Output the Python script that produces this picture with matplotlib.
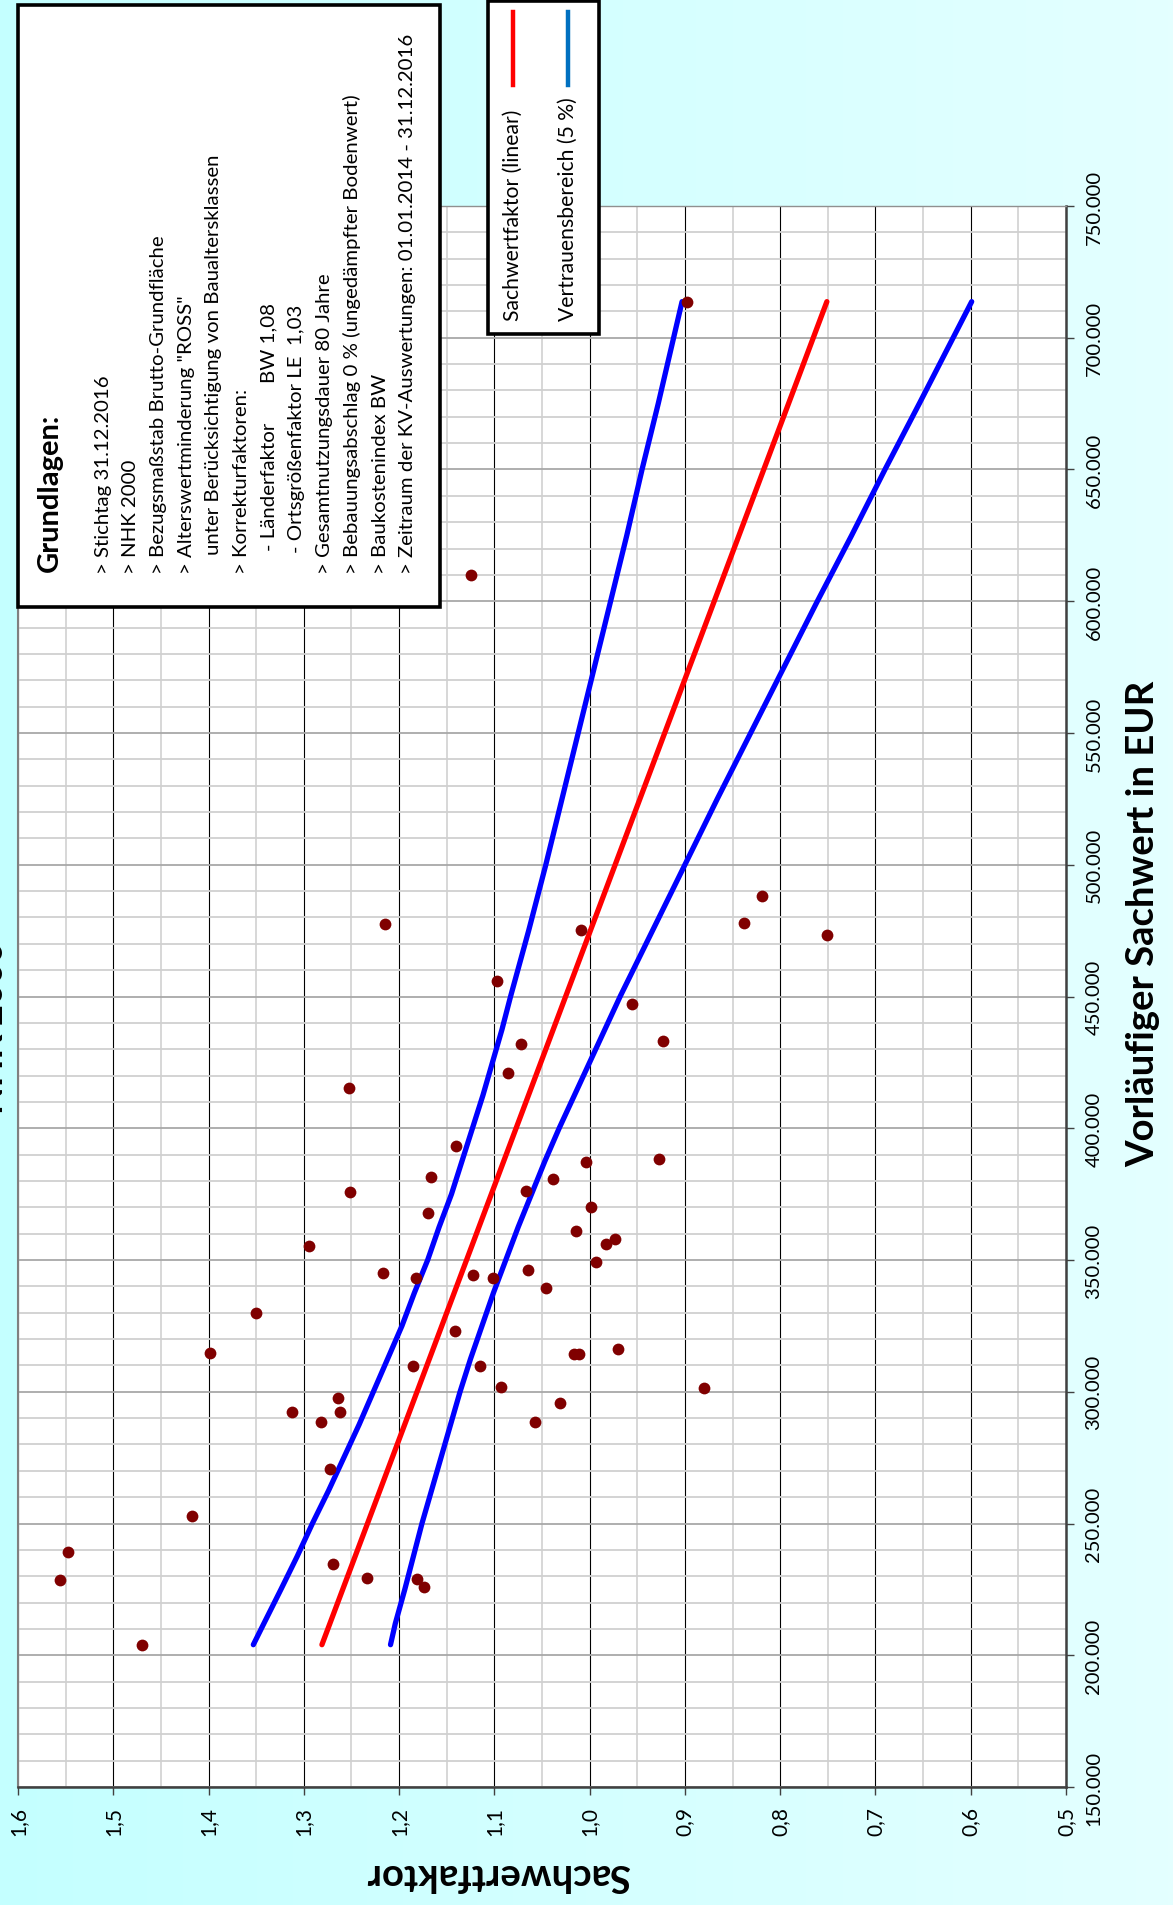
import matplotlib
matplotlib.use("Agg")
import matplotlib.pyplot as plt
import numpy as np
from matplotlib.colors import LinearSegmentedColormap
from matplotlib.patches import Rectangle
from matplotlib.lines import Line2D

W, H = 1173, 1906
plt.rcParams["font.family"] = ["Lato", "DejaVu Sans"]

# Kaufpreise: vorläufiger Sachwert (EUR) und Sachwertfaktor
sachwert = [713700, 609900, 477500, 475300, 473300, 478000, 488000, 455900,
            447100, 433300, 432000, 420800, 415100, 393300, 388500, 387100,
            381400, 380600, 375900, 376100, 368000, 370100, 361100, 355300,
            357800, 356000, 344900, 343200, 344300, 343300, 346100, 349100,
            339300, 329700, 323200, 314800, 314300, 314300, 316200, 309700,
            309700, 301800, 301300, 297600, 295600, 292500, 292200, 288700,
            288400, 270800, 253000, 239300, 234700, 228500, 229400, 229100,
            225800, 204000]
faktor = [0.898, 1.124, 1.215, 1.009, 0.751, 0.838, 0.819, 1.097,
          0.956, 0.923, 1.072, 1.086, 1.253, 1.140, 0.927, 1.004,
          1.166, 1.038, 1.252, 1.067, 1.170, 0.999, 1.014, 1.295,
          0.973, 0.983, 1.217, 1.182, 1.122, 1.101, 1.065, 0.993,
          1.046, 1.350, 1.141, 1.398, 1.016, 1.011, 0.970, 1.185,
          1.115, 1.093, 0.880, 1.264, 1.031, 1.312, 1.262, 1.282,
          1.057, 1.273, 1.417, 1.547, 1.269, 1.556, 1.234, 1.181,
          1.174, 1.470]

# lineare Regression
trend_wert = [204000, 713700]
trend_faktor = [1.281, 0.751]

# Vertrauensbereich (5 %)
band_wert = [204000, 212000, 225000, 237500, 250000, 262500, 275000, 287500,
             300000, 312500, 325000, 337500, 350000, 362500, 375000, 387500,
             400000, 412500, 425000, 437500, 450000, 475000, 500000, 525000,
             550000, 575000, 600000, 625000, 650000, 675000, 713700]
band_oben = [1.353, 1.342, 1.324, 1.307, 1.291, 1.274, 1.258, 1.242,
             1.227, 1.212, 1.197, 1.184, 1.170, 1.158, 1.145, 1.134,
             1.123, 1.112, 1.102, 1.092, 1.083, 1.064, 1.046, 1.029,
             1.012, 0.995, 0.978, 0.961, 0.945, 0.928, 0.903]
band_unten = [1.209, 1.204, 1.194, 1.185, 1.176, 1.166, 1.156, 1.146,
              1.136, 1.125, 1.113, 1.101, 1.088, 1.075, 1.061, 1.047,
              1.032, 1.016, 1.000, 0.984, 0.968, 0.934, 0.900, 0.866,
              0.831, 0.796, 0.761, 0.725, 0.690, 0.654, 0.599]

faktor_ticks = [1.6, 1.5, 1.4, 1.3, 1.2, 1.1, 1.0, 0.9, 0.8, 0.7, 0.6, 0.5]
wert_ticks = [150000, 200000, 250000, 300000, 350000, 400000, 450000,
              500000, 550000, 600000, 650000, 700000, 750000]

grundlagen = [
    "> Stichtag 31.12.2016",
    "> NHK 2000",
    "> Bezugsmaßstab Brutto-Grundfläche",
    "> Alterswertminderung \"ROSS\"",
    "unter Berücksichtigung von Baualtersklassen",
    "> Korrekturfaktoren:",
    "- Länderfaktor",
    "- Ortsgrößenfaktor LE  1,03",
    "> Gesamtnutzungsdauer 80 Jahre",
    "> Bebauungsabschlag 0 % (ungedämpfter Bodenwert)",
    "> Baukostenindex BW",
    "> Zeitraum der KV-Auswertungen: 01.01.2014 - 31.12.2016",
]
legend_labels = ["Sachwertfaktor (linear)", "Vertrauensbereich (5 %)"]


def px(x):
    return x / W


def py(y):
    return 1 - y / H


fig = plt.figure(figsize=(W / 100, H / 100), dpi=100)

# hellblauer Hintergrund mit leichtem Verlauf
bg = fig.add_axes([0, 0, 1, 1], zorder=-10)
cmap = LinearSegmentedColormap.from_list("bg", ["#c4ffff", "#e4ffff"])
bg.imshow(np.linspace(0, 1, 256)[None, :], cmap=cmap, aspect="auto",
          extent=[0, 1, 0, 1])
bg.axis("off")

ax = fig.add_axes([px(18), py(1788), px(1066) - px(18), py(207) - py(1788)])
ax.set_facecolor("white")
ax.set_xlim(1.6, 0.5)
ax.set_ylim(150000, 750000)
ax.set_axisbelow(True)

ax.set_xticks(faktor_ticks)
ax.set_xticklabels([f"{t:.1f}".replace(".", ",") for t in faktor_ticks],
                   rotation=90, fontsize=15)
ax.set_xticks(np.arange(0.55, 1.6, 0.1), minor=True)
ax.yaxis.tick_right()
ax.set_yticks(wert_ticks)
ax.set_yticklabels([f"{t:,}".replace(",", ".") for t in wert_ticks],
                   rotation=90, va="center", fontsize=14.5)
ax.set_yticks(np.arange(160000, 750000, 10000), minor=True)

ax.grid(which="major", axis="x", color="black", lw=0.8)
ax.grid(which="minor", axis="x", color="#d4d4d4", lw=1.3)
ax.grid(which="major", axis="y", color="#a8a8a8", lw=1.3)
ax.grid(which="minor", axis="y", color="#d0d0d0", lw=1.3)

ax.tick_params(which="major", direction="out", length=6, width=1,
               color="#404040", pad=8)
ax.tick_params(which="minor", length=0)

ax.spines["left"].set_color("#808080")
ax.spines["left"].set_linewidth(1.5)
ax.spines["top"].set_color("#909090")
ax.spines["top"].set_linewidth(1.0)
for side in ("right", "bottom"):
    ax.spines[side].set_color("#404040")
    ax.spines[side].set_linewidth(1.8)

ax.plot(band_oben, band_wert, color="#0000ff", lw=3.8,
        solid_capstyle="round", zorder=2)
ax.plot(band_unten, band_wert, color="#0000ff", lw=3.8,
        solid_capstyle="round", zorder=2)
ax.plot(trend_faktor, trend_wert, color="#ff0000", lw=3.8,
        solid_capstyle="round", zorder=2)
ax.scatter(faktor, sachwert, s=72, color="#800000", linewidths=0, zorder=4)

# Achsentitel
fig.text(px(1143), py(924), "Vorläufiger Sachwert in EUR", rotation=90,
         ha="center", va="center", fontsize=27.5, fontweight="bold")
fig.text(px(498), py(1875), "Sachwertfaktor", rotation=180,
         ha="center", va="center", fontsize=27.5, fontweight="bold")
fig.text(px(9), py(1028), "NHK 2000", rotation=90, ha="right", va="center",
         fontsize=26, fontweight="bold")

# Kasten mit den Grundlagen
fig.add_artist(Rectangle((px(18), py(608)), px(440) - px(18), py(6) - py(608),
                         transform=fig.transFigure, facecolor="white",
                         edgecolor="black", lw=2.6, zorder=5))
fig.text(px(50), py(572), "Grundlagen:", rotation=90, ha="center",
         va="bottom", fontsize=21, fontweight="bold", zorder=6)
starts = {4: 555, 6: 551, 7: 553}
for i, line in enumerate(grundlagen):
    fig.text(px(103 + 27.7 * i), py(starts.get(i, 574)), line, rotation=90,
             ha="center", va="bottom", fontsize=14.7, zorder=6)
fig.text(px(103 + 27.7 * 6), py(383), "BW 1,08", rotation=90, ha="center",
         va="bottom", fontsize=14.7, zorder=6)

# Legende
fig.add_artist(Rectangle((px(488), py(335)), px(599) - px(488), py(2) - py(335),
                         transform=fig.transFigure, facecolor="white",
                         edgecolor="black", lw=2.6, zorder=5))
for x, color, label in zip((513, 568), ("#ff0000", "#0070c0"), legend_labels):
    fig.add_artist(Line2D([px(x), px(x)], [py(86), py(13)],
                          transform=fig.transFigure, color=color, lw=3.2,
                          zorder=6))
    fig.text(px(x), py(321), label, rotation=90, ha="center", va="bottom",
             fontsize=15.2, zorder=6)

fig.savefig("out.png", dpi=100)
